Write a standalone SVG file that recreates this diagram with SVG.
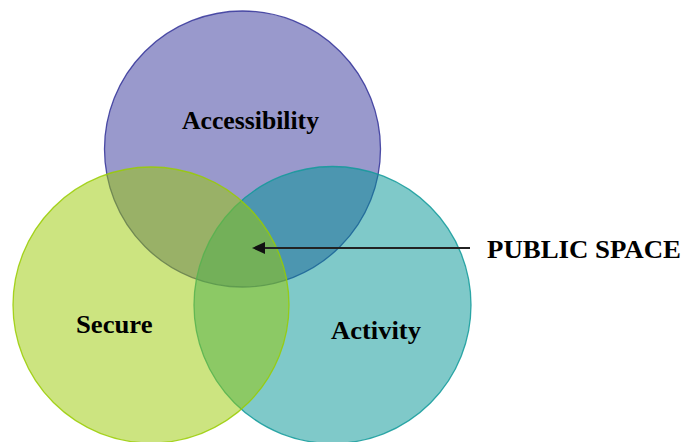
<svg xmlns="http://www.w3.org/2000/svg" width="685" height="442" viewBox="0 0 685 442">
<style>
.c{fill-opacity:0.5;stroke-width:1.3;stroke-opacity:0.85}
.lbl{font-family:"Liberation Serif","Times New Roman",serif;font-weight:bold;font-size:25px;fill:#000}
</style>
<rect width="685" height="442" fill="#fff"/>
<g id="accessibility">
<circle class="c" cx="242.5" cy="149" r="138" fill="#333399" stroke="#333399"/>
<text class="lbl" x="182" y="129" textLength="137" lengthAdjust="spacingAndGlyphs">Accessibility</text>
</g>
<g id="activity">
<circle class="c" cx="332.5" cy="305" r="138.5" fill="#009494" stroke="#109a9a"/>
<text class="lbl" x="331" y="339" textLength="90" lengthAdjust="spacingAndGlyphs">Activity</text>
</g>
<g id="secure">
<circle class="c" cx="151" cy="305" r="138" fill="#99C901" stroke="#99cc00"/>
<text class="lbl" x="76" y="333" textLength="76.5" lengthAdjust="spacingAndGlyphs">Secure</text>
</g>
<g id="public-space">
<text class="lbl" x="487" y="258" textLength="194" lengthAdjust="spacingAndGlyphs">PUBLIC SPACE</text>
</g>
<g id="connectors">
<line x1="470" y1="248" x2="262" y2="248" stroke="#222" stroke-width="2"/>
<polygon points="252,248 265,242 265,254" fill="#111"/>
</g>
</svg>
